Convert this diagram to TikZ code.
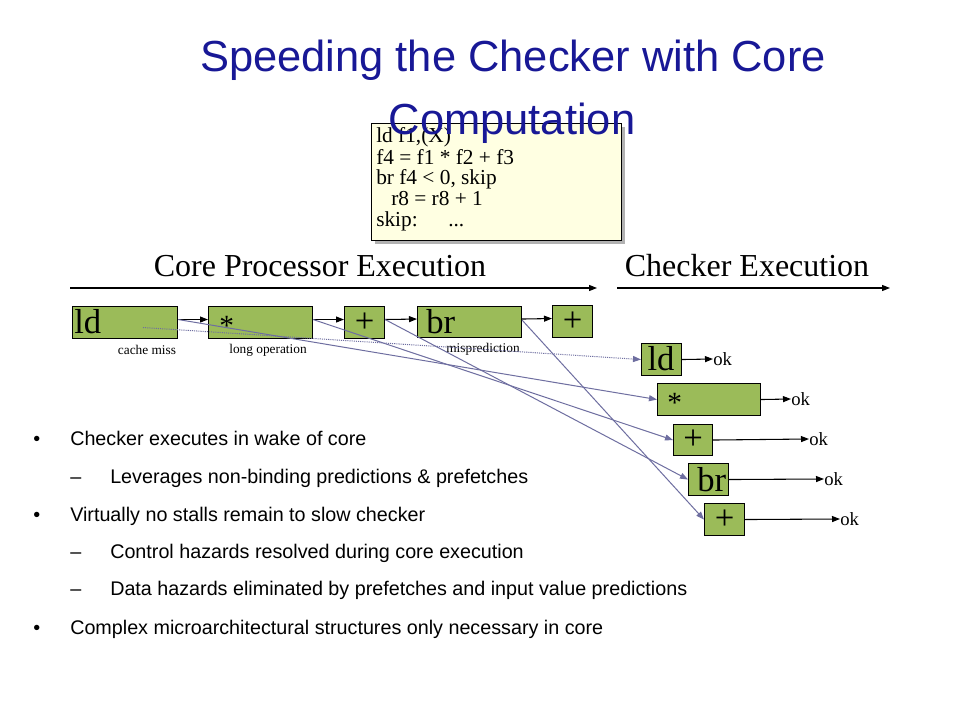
\documentclass[tikz,border=0pt]{standalone}
\usepackage{fontspec}
\setmainfont{Liberation Serif}
\newfontfamily\arialf{Liberation Sans}
\usetikzlibrary{arrows.meta,shadows}
\definecolor{titleblue}{RGB}{24,24,150}
\definecolor{boxgreen}{RGB}{155,187,89}
\definecolor{linkblue}{RGB}{110,110,160}
\definecolor{codebg}{RGB}{255,255,226}
\begin{document}
\begin{tikzpicture}[x=0.75pt,y=-0.75pt,
  gbox/.style 2 args={draw=black, fill=boxgreen, line width=0.8pt,
    minimum width=#1*0.75pt, minimum height=#2*0.75pt, inner sep=0pt, anchor=north west},
  btxt/.style={font=\fontsize{26}{26}\selectfont, inner sep=0pt},
  stxt/.style={font=\fontsize{22}{22}\selectfont, inner sep=0pt},
  small/.style={font=\fontsize{10}{10}\selectfont, inner sep=0pt},
  oktxt/.style={font=\fontsize{14}{14}\selectfont, inner sep=0pt, anchor=west},
  codetxt/.style={font=\fontsize{16}{16}\selectfont, inner sep=0pt, anchor=base west},
  head/.style={font=\fontsize{24}{24}\selectfont, inner sep=0pt},
  bul/.style={font=\arialf\fontsize{14.8}{14.8}\selectfont, inner sep=0pt, anchor=base west},
  ttl/.style={font=\arialf\fontsize{32.6}{32.6}\selectfont, text=titleblue, inner sep=0pt, anchor=base},
  chain/.style={line width=0.8pt, -{Triangle[length=6pt,width=4.5pt]}},
  link/.style={draw=linkblue, line width=0.75pt, -{Triangle[length=6pt,width=4.5pt]}},
  dotlink/.style={link, dash pattern=on 0.8pt off 0.8pt},
]
\fill[white] (0,0) rectangle (960,720);
\useasboundingbox (0,0) rectangle (960,720);

% code box
\node[draw=black, fill=codebg, line width=0.8pt, minimum width=250*0.75pt, minimum height=117*0.75pt,
  inner sep=0pt, anchor=north west,
  drop shadow={shadow xshift=2.5pt, shadow yshift=-2.5pt, fill=black!50, opacity=0.6}] (code) at (371,123) {};
\node[codetxt] (code1) at (376,143) {ld f1,(X)};
\node[codetxt] (code2) at (376,165) {f4 = f1 * f2 + f3};
\node[codetxt] (code3) at (376,185) {br f4 < 0, skip};
\node[codetxt] (code4) at (391,206) {r8 = r8 + 1};
\node[codetxt] (code5) at (376,227) {skip:};
\node[codetxt] (code6) at (448,227) {...};

% title
\node[ttl] (title1) at (513,72) {Speeding the Checker with Core};
\node[ttl] (title2) at (512,135) {Computation};

% timeline headings
\node[head] (corehead) at (320,266) {Core Processor Execution};
\node[head] (chkhead) at (747,266) {Checker Execution};
\coordinate (tla) at (70,288);
\coordinate (tlb) at (597,288);
\coordinate (tlc) at (617,288);
\coordinate (tld) at (890,288);
\draw[chain] (tla) -- (tlb);
\draw[chain] (tlc) -- (tld);

% core boxes
\node[gbox={105}{32}] (cld) at (72,306) {};
\node[gbox={104}{32}] (cmul) at (208,306) {};
\node[gbox={40}{32}] (cadd) at (344,306) {};
\node[gbox={104}{31}] (cbr) at (417,306) {};
\node[gbox={40}{32}] (cadd2) at (552,305) {};
\node[btxt, anchor=base west] (cldt) at (74,334) {ld};
\node[stxt, anchor=base west] (cmult) at (219,335) {*};
\node[btxt] (caddt) at (cadd.center) {+};
\node[btxt, anchor=base west] (cbrt) at (426,333) {br};
\node[btxt] (cadd2t) at (cadd2.center) {+};

\node[small] (lblmiss) at (147,350) {cache miss};
\node[small] (lbllong) at (268,350) {long operation};
\node[small] (lblmisp) at (483,349) {misprediction};

\draw[chain] ([yshift=2.25pt]cld.east) -- ([yshift=2.25pt]cmul.west);
\draw[chain] ([yshift=2.25pt]cmul.east) -- ([yshift=2.25pt]cadd.west);
\draw[chain] ([yshift=2.25pt]cadd.east) -- ([yshift=2.25pt]cbr.west);
\draw[chain] ([yshift=2.25pt]cbr.east) -- ([yshift=2.25pt]cadd2.west);

% checker boxes
\node[gbox={40}{32}] (kld) at (641,343) {};
\node[gbox={103}{32}] (kmul) at (657,383) {};
\node[gbox={39}{31}] (kadd) at (673,424) {};
\node[gbox={40}{32}] (kbr) at (688,463) {};
\node[gbox={40}{32}] (kadd2) at (704,503) {};
\node[btxt, anchor=base] (kldt) at (661,370) {ld};
\node[stxt, anchor=base west] (kmult) at (667,412) {*};
\node[btxt] (kaddt) at (kadd.center) {+};
\node[btxt, anchor=base west] (kbrt) at (697,491) {br};
\node[btxt] (kadd2t) at (kadd2.center) {+};

\node[oktxt] (ok1) at (713,359) {ok};
\node[oktxt] (ok2) at (791,399) {ok};
\node[oktxt] (ok3) at (809,439) {ok};
\node[oktxt] (ok4) at (824,479) {ok};
\node[oktxt] (ok5) at (840,519) {ok};
\draw[chain] (kld.east) -- (ok1.west);
\draw[chain] (kmul.east) -- (ok2.west);
\draw[chain] (kadd.east) -- (ok3.west);
\draw[chain] (kbr.east) -- (ok4.west);
\draw[chain] (kadd2.east) -- (ok5.west);

% core -> checker links
\draw[dotlink] ([xshift=53.25pt,yshift=-3.75pt]cld.west) -- (kld.west);
\draw[link] ([yshift=2.25pt]cld.east) -- (kmul.west);
\draw[link] ([yshift=2.25pt]cmul.east) -- (kadd.west);
\draw[link] ([yshift=2.25pt]cadd.east) -- (kbr.west);
\draw[link] ([yshift=1.5pt]cbr.east) -- (kadd2.west);

% bullets
\node[bul] (b1) at (33,445) {\textbullet};
\node[bul] (b1t) at (70,445) {Checker executes in wake of core};
\node[bul] (b2) at (70,483) {–};
\node[bul] (b2t) at (110,483) {Leverages non-binding predictions \& prefetches};
\node[bul] (b3) at (33,521) {\textbullet};
\node[bul] (b3t) at (70,521) {Virtually no stalls remain to slow checker};
\node[bul] (b4) at (70,558) {–};
\node[bul] (b4t) at (110,558) {Control hazards resolved during core execution};
\node[bul] (b5) at (70,595) {–};
\node[bul] (b5t) at (110,595) {Data hazards eliminated by prefetches and input value predictions};
\node[bul] (b6) at (33,634) {\textbullet};
\node[bul] (b6t) at (70,634) {Complex microarchitectural structures only necessary in core};
\end{tikzpicture}
\end{document}
